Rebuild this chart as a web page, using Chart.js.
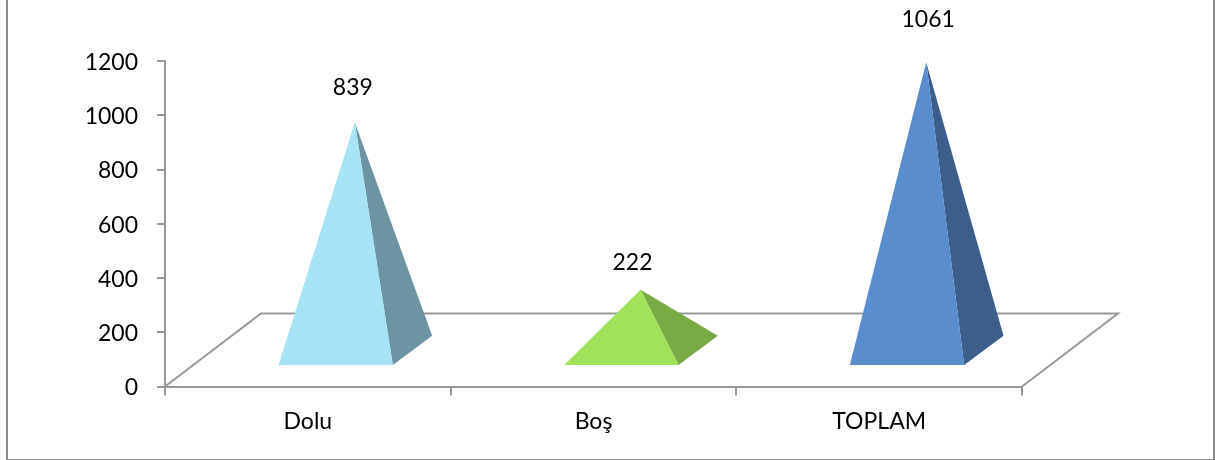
<!DOCTYPE html>
<html lang="tr">
<head>
    <meta charset="UTF-8">
    <title>Dolu Boş Toplam</title>
    <script src="https://cdn.jsdelivr.net/npm/chart.js"></script>
    <style>
        html, body { margin: 0; padding: 0; background: #fff; overflow: hidden; }
        #frame { position: absolute; left: 6px; top: -4px; width: 1205px; height: 461px; border: 2px solid #8c8c8c; }
        canvas { position: absolute; left: 0; top: 0; }
    </style>
</head>
<body>
    <div id="frame"></div>
    <canvas id="chart" width="1215" height="460" style="width:1215px;height:460px"></canvas>

    <script>
        // data
        const categories = ['Dolu', 'Boş', 'TOPLAM'];
        const values = [839, 222, 1061];
        const yTicks = [0, 200, 400, 600, 800, 1000, 1200];

        // styles
        const frontColors = ['#a5e3f5', '#a0e35a', '#598dce'];
        const sideColors = ['#6c94a2', '#79ab44', '#3b5e8a'];
        const labelNudge = [[-2, -35], [-8, -27], [2, -43]];
        const gridGrey = '#989898';
        const fontName = 'Lato';
        const fontSize = 23;

        // how far the floor runs back, in pixels
        const depthX = 96;
        const depthY = 73;

        function poly(ctx, pts, color) {
            ctx.fillStyle = color;
            ctx.beginPath();
            pts.forEach((p, i) => i ? ctx.lineTo(p[0], p[1]) : ctx.moveTo(p[0], p[1]));
            ctx.closePath();
            ctx.fill();
        }

        const floorPlugin = {
            id: 'floor',
            beforeDatasetsDraw(chart) {
                const { left, right, bottom } = chart.chartArea;
                const ctx = chart.ctx;
                ctx.save();
                ctx.strokeStyle = gridGrey;
                ctx.lineWidth = 2;
                ctx.beginPath();
                ctx.moveTo(left, bottom);
                ctx.lineTo(left + depthX, bottom - depthY);
                ctx.lineTo(right + depthX, bottom - depthY);
                ctx.lineTo(right, bottom);
                ctx.stroke();
                ctx.restore();
            }
        };

        // turns each (invisible) bar into a pyramid standing on the floor
        const pyramidPlugin = {
            id: 'pyramid',
            afterDatasetsDraw(chart) {
                const ctx = chart.ctx;
                const meta = chart.getDatasetMeta(0);
                ctx.save();
                meta.data.forEach((bar, i) => {
                    const half = bar.width / 2;
                    const fx = bar.x + depthX * 0.29;
                    const fy = bar.base - depthY * 0.28;
                    const bx = depthX * 0.41;
                    const by = depthY * 0.4;
                    const apex = [bar.x + depthX * 0.49, bar.y - depthY * 0.5];
                    const frontL = [fx - half, fy];
                    const frontR = [fx + half, fy];
                    const backR = [fx + half + bx, fy - by];
                    poly(ctx, [frontR, backR, apex], sideColors[i]);
                    poly(ctx, [frontL, frontR, apex], frontColors[i]);

                    ctx.fillStyle = '#000';
                    ctx.font = fontSize + 'px ' + fontName;
                    ctx.textAlign = 'center';
                    ctx.textBaseline = 'middle';
                    ctx.fillText(values[i], apex[0] + labelNudge[i][0], apex[1] + labelNudge[i][1]);
                });
                ctx.restore();
            }
        };

        new Chart(document.getElementById('chart'), {
            type: 'bar',
            data: {
                labels: categories,
                datasets: [{
                    data: values,
                    backgroundColor: 'transparent',
                    categoryPercentage: 0.4,
                    barPercentage: 1
                }]
            },
            options: {
                responsive: false,
                animation: false,
                devicePixelRatio: 1,
                layout: { padding: { top: 61, right: 193, left: 0, bottom: 0 } },
                plugins: { legend: { display: false }, tooltip: { enabled: false } },
                scales: {
                    x: {
                        afterFit(scale) { scale.height = 73.5; },
                        border: { color: gridGrey, width: 2 },
                        grid: { drawOnChartArea: false, color: gridGrey, lineWidth: 2, tickLength: 9 },
                        ticks: { color: '#000', padding: 12, maxRotation: 0, font: { family: fontName, size: fontSize } }
                    },
                    y: {
                        min: 0,
                        max: 1200,
                        afterFit(scale) { scale.width = 165; },
                        afterBuildTicks(scale) { scale.ticks = yTicks.map(v => ({ value: v })); },
                        border: { color: gridGrey, width: 2 },
                        grid: { drawOnChartArea: false, color: gridGrey, lineWidth: 2, tickLength: 8 },
                        ticks: { color: '#000', padding: 19, labelOffset: 1.5, font: { family: fontName, size: fontSize }, callback: v => String(v) }
                    }
                }
            },
            plugins: [floorPlugin, pyramidPlugin]
        });
    </script>
</body>
</html>
